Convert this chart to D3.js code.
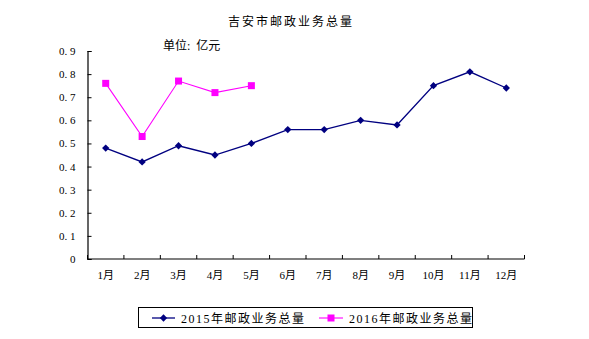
<!DOCTYPE html>
<html>
<head>
<meta charset="utf-8">
<script src="https://cdn.jsdelivr.net/npm/d3@7"></script>
<style>
  html, body { margin: 0; padding: 0; background: #fff; }
  svg { display: block; }
  text { font-family: "Liberation Serif", "Noto Sans CJK SC", serif; fill: #000; white-space: pre; }
</style>
</head>
<body>
<script>
// Monthly postal business volume, Ji'an city (unit: 100 million yuan)
const months = ["1月","2月","3月","4月","5月","6月","7月","8月","9月","10月","11月","12月"];
const values2015 = [0.48, 0.42, 0.49, 0.45, 0.50, 0.56, 0.56, 0.60, 0.58, 0.75, 0.81, 0.74];
const values2016 = [0.76, 0.53, 0.77, 0.72, 0.75];
const yTicks = [0, 0.1, 0.2, 0.3, 0.4, 0.5, 0.6, 0.7, 0.8, 0.9];
const seriesNames = ["2015年邮政业务总量", "2016年邮政业务总量"];
const titleText = "吉安市邮政业务总量";
const unitText = "单位:  亿元";

const W = 589, H = 339;
const svg = d3.select("body").append("svg").attr("width", W).attr("height", H);

const plot = { left: 87.5, right: 524.5, top: 51, bottom: 259 };

const x = d3.scaleBand().domain(months).range([plot.left, plot.right]).padding(0);
const y = d3.scaleLinear().domain([0, 0.9]).range([plot.bottom, plot.top]);

// Title and unit
svg.append("text").attr("x", 291).attr("y", 26).attr("text-anchor", "middle")
  .attr("font-size", 12).attr("letter-spacing", 2).text(titleText);
svg.append("text").attr("x", 163).attr("y", 50)
  .attr("font-size", 12).text(unitText);

// Y axis (ticks point inward)
const yAxis = d3.axisLeft(y).tickValues(yTicks).tickSize(-4).tickPadding(14)
  .tickFormat(d => d === 0 ? "0" : d3.format(".1f")(d).replace(".", ". "));
const gy = svg.append("g").attr("transform", `translate(${plot.left},0)`).call(yAxis);
gy.select(".domain").attr("stroke", "#000").attr("stroke-width", 1.2);
gy.selectAll(".tick line").attr("stroke", "#000");
gy.selectAll(".tick text").attr("font-size", 11).attr("font-family", "Liberation Serif").attr("dx", 2);

// X axis (tick marks at band boundaries, pointing inward)
const gx = svg.append("g").attr("transform", `translate(0,${plot.bottom})`);
gx.append("line").attr("x1", plot.left).attr("x2", plot.right)
  .attr("stroke", "#000").attr("stroke-width", 1.2);
const bounds = months.map(m => x(m)).concat([plot.right]);
gx.selectAll("line.tk").data(bounds).join("line").attr("class", "tk")
  .attr("x1", d => d).attr("x2", d => d).attr("y1", 0).attr("y2", -4)
  .attr("stroke", "#000");
gx.selectAll("text.lbl").data(months).join("text").attr("class", "lbl")
  .attr("x", d => x(d) + x.bandwidth() / 2).attr("y", 20)
  .attr("text-anchor", "middle").attr("font-size", 11).text(d => d);

const cx = m => x(m) + x.bandwidth() / 2;
const line = d3.line().x(d => cx(d.m)).y(d => y(d.v));

const s2015 = values2015.map((v, i) => ({ m: months[i], v }));
const s2016 = values2016.map((v, i) => ({ m: months[i], v }));

const navy = "#000080", magenta = "#ff00ff";

svg.append("path").datum(s2015).attr("d", line).attr("fill", "none")
  .attr("stroke", navy).attr("stroke-width", 1.3);
svg.append("path").datum(s2016).attr("d", line).attr("fill", "none")
  .attr("stroke", magenta).attr("stroke-width", 1.1);

const diamond = d3.symbol().type(d3.symbolDiamond2).size(34);
svg.selectAll("path.m15").data(s2015).join("path").attr("class", "m15")
  .attr("d", diamond).attr("transform", d => `translate(${cx(d.m)},${y(d.v)})`)
  .attr("fill", navy);
svg.selectAll("rect.m16").data(s2016).join("rect").attr("class", "m16")
  .attr("x", d => cx(d.m) - 3.5).attr("y", d => y(d.v) - 3.5)
  .attr("width", 7).attr("height", 7).attr("fill", magenta);

// Legend
const lg = svg.append("g");
lg.append("rect").attr("x", 138.5).attr("y", 307.5).attr("width", 334).attr("height", 20)
  .attr("fill", "#fff").attr("stroke", "#000").attr("stroke-width", 1);
const ly = 318;
lg.append("line").attr("x1", 152).attr("x2", 175).attr("y1", ly).attr("y2", ly)
  .attr("stroke", navy).attr("stroke-width", 1.3);
lg.append("path").attr("d", diamond).attr("transform", `translate(163.5,${ly})`).attr("fill", navy);
lg.append("text").attr("x", 181).attr("y", ly + 4.5).attr("font-size", 12)
  .attr("letter-spacing", 1.5).text(seriesNames[0]);
lg.append("line").attr("x1", 319).attr("x2", 343).attr("y1", ly).attr("y2", ly)
  .attr("stroke", magenta).attr("stroke-width", 1.1);
lg.append("rect").attr("x", 331 - 3.5).attr("y", ly - 3.5).attr("width", 7).attr("height", 7).attr("fill", magenta);
lg.append("text").attr("x", 349).attr("y", ly + 4.5).attr("font-size", 12)
  .attr("letter-spacing", 1.5).text(seriesNames[1]);
</script>
</body>
</html>
